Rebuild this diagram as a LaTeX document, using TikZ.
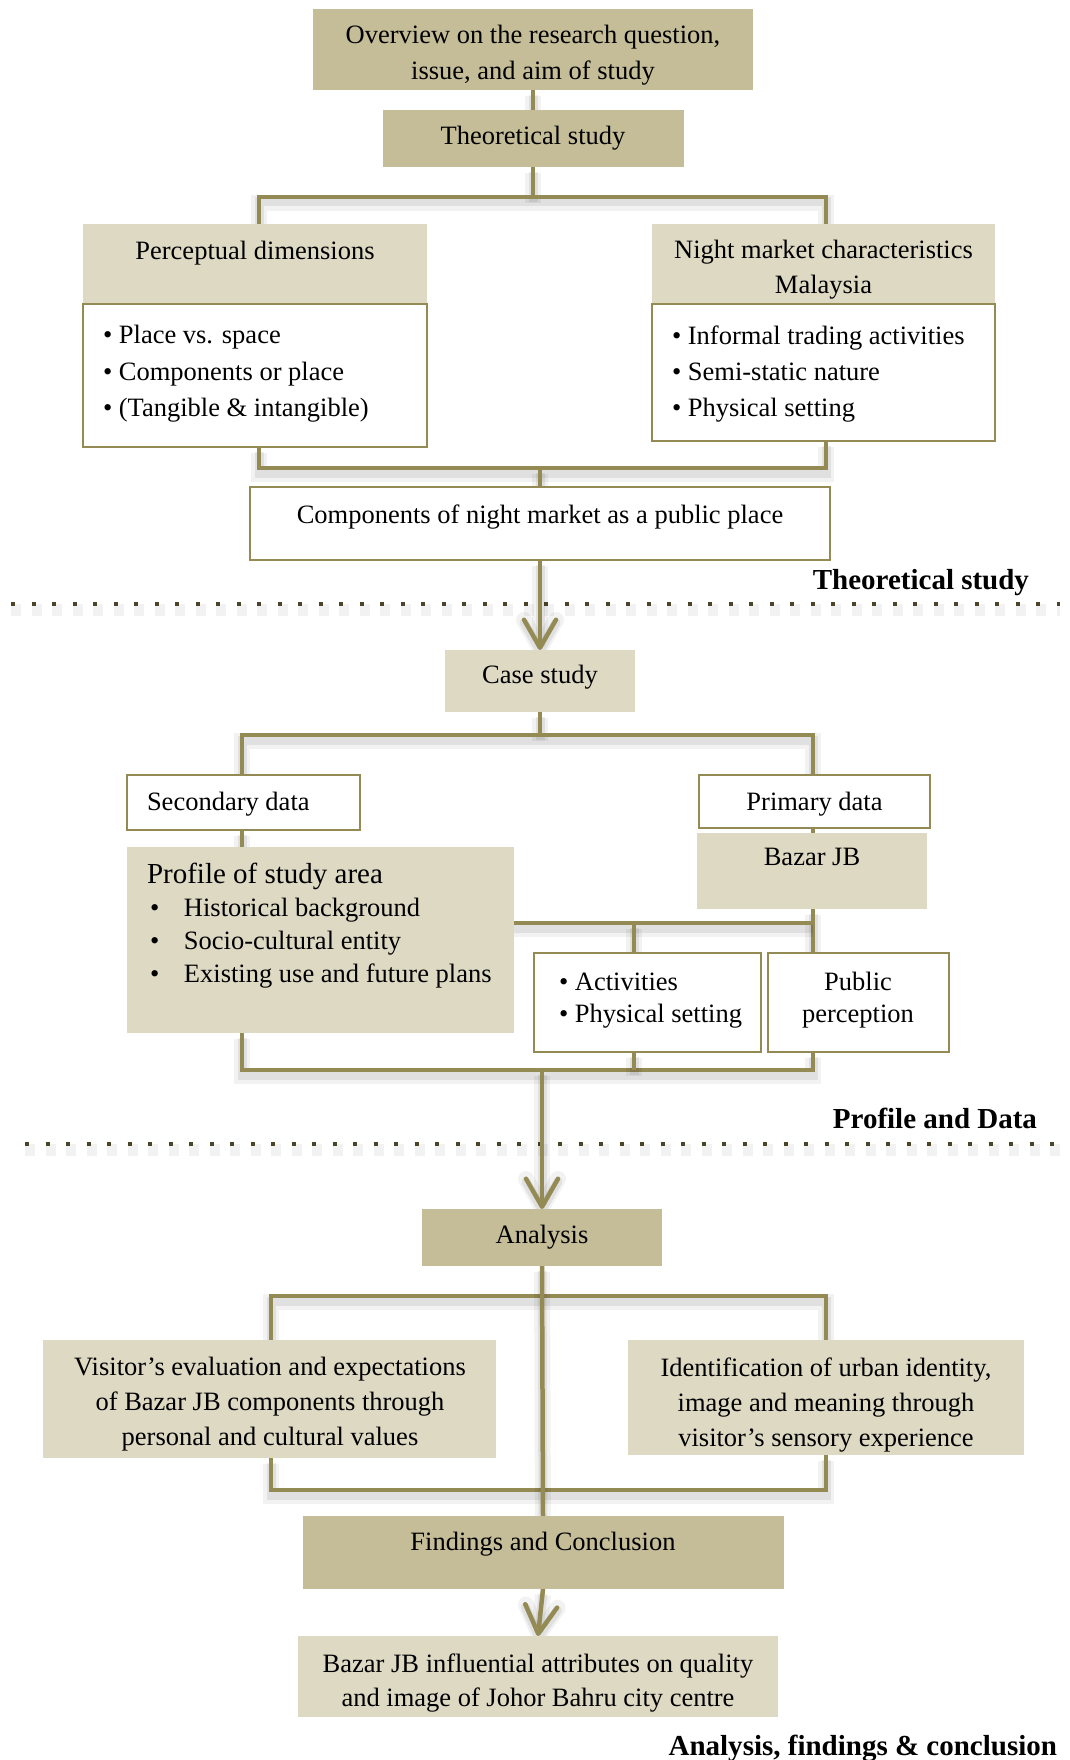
\documentclass[tikz,border=0pt]{standalone}
\usepackage{fontspec}
\setmainfont{Liberation Serif}
\usetikzlibrary{arrows.meta}
\definecolor{darktan}{HTML}{C4BD97}
\definecolor{lighttan}{HTML}{DDD9C3}
\definecolor{olive}{HTML}{948A54}
\definecolor{dotcol}{HTML}{4A452A}
\pgfdeclarelayer{bg}
\pgfsetlayers{bg,main}
\begin{document}
\begin{tikzpicture}[x=1pt,y=-1pt,
  dbox/.style={fill=darktan, draw=none, inner sep=0, outer sep=0},
  lbox/.style={fill=lighttan, draw=none, inner sep=0, outer sep=0},
  wbox/.style={fill=white, draw=olive, line width=1.8pt, inner sep=0, outer sep=0},
  txt/.style={inner sep=0, outer sep=0, anchor=north, align=center, font=\fontsize{26.5}{35.5}\selectfont},
  bl/.style={txt, anchor=north west, align=left},
  lab/.style={inner sep=0, outer sep=0, anchor=north east, font=\bfseries\fontsize{29}{34}\selectfont},
  shade/.style={preaction={draw=black, draw opacity=0.05, line width=16pt, transform canvas={yshift=-6pt}},
                preaction={draw=black, draw opacity=0.07, line width=9pt, transform canvas={yshift=-5pt}}},
  conn/.style={shade, draw=olive, line width=4.5pt, line join=miter},
  arr/.style={conn, line cap=round, -{Straight Barb[length=28pt, width=32pt, round]}},
  dotline/.style={draw=dotcol, line width=4pt, dash pattern=on 4pt off 16.5pt,
                  preaction={draw=black, draw opacity=0.05, line width=12pt, transform canvas={yshift=-6pt}, dash pattern=on 10pt off 10.5pt}}
]
\useasboundingbox (0,0) rectangle (1069,1760);

% ---------- boxes ----------
\node[dbox, minimum width=440, minimum height=81] (ov) at (533,49.5) {};
\node[txt] (ovt) at (533,25.5) {Overview on the research question,\\issue, and aim of study};

\node[dbox, minimum width=301, minimum height=57] (th) at (533,138.5) {};
\node[txt] (tht) at (533,126.5) {Theoretical study};

\node[lbox, minimum width=344, minimum height=80] (pd) at (255,264) {};
\node[txt] (pdt) at (255,241) {Perceptual dimensions};
\node[wbox, minimum width=344, minimum height=143] (pl) at (255,375.5) {};
\node[bl, font=\fontsize{26.5}{36.4}\selectfont] (plt) at (103,325.5) {\textbullet\ Place vs. space\\\textbullet\ Components or place\\\textbullet\ (Tangible \& intangible)};

\node[lbox, minimum width=343, minimum height=80] (nh) at (823.5,264) {};
\node[txt, font=\fontsize{26.5}{35}\selectfont] (nht) at (823.5,240.5) {Night market characteristics\\Malaysia};
\node[wbox, minimum width=343, minimum height=137] (nl) at (823.5,372.5) {};
\node[bl, font=\fontsize{26.5}{36.4}\selectfont] (nlt) at (672,325.5) {\textbullet\ Informal trading activities\\\textbullet\ Semi-static nature\\\textbullet\ Physical setting};

\node[wbox, minimum width=580, minimum height=73] (comp) at (540,523.5) {};
\node[txt] (compt) at (540,504.5) {Components of night market as a public place};

\node[lab] (lab1) at (1029,569.5) {Theoretical study};

\node[lbox, minimum width=190, minimum height=62] (case) at (540,681) {};
\node[txt] (caset) at (540,665.5) {Case study};

\node[wbox, minimum width=233, minimum height=55] (sec) at (243.5,802.5) {};
\node[txt, anchor=north west] (sect) at (147,792) {Secondary data};
\node[wbox, minimum width=231, minimum height=53] (prim) at (814.5,801.5) {};
\node[txt] (primt) at (814.5,792) {Primary data};
\node[lbox, minimum width=230, minimum height=76] (bazar) at (812,871) {};
\node[txt] (bazart) at (812,848.5) {Bazar JB};

\node[lbox, minimum width=387, minimum height=186] (prof) at (320.5,940) {};
\node[txt, anchor=north west, font=\fontsize{29}{33}\selectfont] (proft) at (147,863.5) {Profile of study area};
\node[bl, font=\fontsize{26.5}{33}\selectfont] (profl) at (150,898.5) {\makebox[34pt][l]{\textbullet}Historical background\\\makebox[34pt][l]{\textbullet}Socio-cultural entity\\\makebox[34pt][l]{\textbullet}Existing use and future plans};

\node[wbox, minimum width=227, minimum height=99] (act) at (647.5,1002.5) {};
\node[bl, font=\fontsize{26.5}{32}\selectfont] (actt) at (559,972.5) {\textbullet\ Activities\\\textbullet\ Physical setting};
\node[wbox, minimum width=181, minimum height=99] (pub) at (858.5,1002.5) {};
\node[txt, font=\fontsize{26.5}{32}\selectfont] (pubt) at (858,972.5) {Public\\perception};

\node[lab] (lab2) at (1037,1108.5) {Profile and Data};

\node[dbox, minimum width=240, minimum height=57] (an) at (542,1237.5) {};
\node[txt] (ant) at (542,1225.5) {Analysis};

\node[lbox, minimum width=453, minimum height=118] (vis) at (269.5,1399) {};
\node[txt, font=\fontsize{26.5}{35}\selectfont] (vist) at (270,1357.5) {Visitor’s evaluation and expectations\\of Bazar JB components through\\personal and cultural values};
\node[lbox, minimum width=396, minimum height=115] (idn) at (826,1397.5) {};
\node[txt, font=\fontsize{26.5}{35}\selectfont] (idnt) at (826,1357.5) {Identification of urban identity,\\image and meaning through\\visitor’s sensory experience};

\node[dbox, minimum width=481, minimum height=73] (fi) at (543,1552.5) {};
\node[txt] (fit) at (543,1532.5) {Findings and Conclusion};

\node[lbox, minimum width=480, minimum height=81] (fin) at (538,1676.5) {};
\node[txt, font=\fontsize{26.5}{34}\selectfont] (fint) at (538,1653.5) {Bazar JB influential attributes on quality\\and image of Johor Bahru city centre};

\node[lab] (lab3) at (1057,1735.5) {Analysis, findings \& conclusion};

% ---------- junction coordinates ----------
\coordinate (b1) at (533,197);
\coordinate (b1L) at (259,197);
\coordinate (b1R) at (826,197);
\coordinate (b2L) at (259,468);
\coordinate (b2R) at (826,468);
\coordinate (b2c) at (540,468);
\coordinate (b3) at (540,735);
\coordinate (b3L) at (242,735);
\coordinate (b3R) at (813,735);
\coordinate (b4R) at (813,923);
\coordinate (b4M) at (634,923);
\coordinate (b5L) at (242,1070);
\coordinate (b5R) at (813,1070);
\coordinate (b5M) at (634,1070);
\coordinate (b5c) at (542,1070);
\coordinate (b6L) at (271,1296);
\coordinate (b6R) at (826,1296);
\coordinate (b7L) at (271,1490);
\coordinate (b7R) at (826,1490);
\coordinate (d1L) at (11,604);
\coordinate (d1R) at (1060,604);
\coordinate (d2L) at (25,1144);
\coordinate (d2R) at (1060,1144);

% ---------- connectors (behind boxes) ----------
\begin{pgfonlayer}{bg}
\fill[white] (0,0) rectangle (1069,1760);
\draw[dotline] (d1L) -- (d1R);
\draw[dotline] (d2L) -- (d2R);

\draw[conn] (ov.south) -- (th.north);
\draw[conn] (th.south) -- (b1);
\draw[conn] (pd.north -| b1L) |- (b1R) -- (nh.north -| b1R);
\draw[conn] (pl.south -| b2L) |- (b2R) -- (nl.south -| b2R);
\draw[conn] (b2c) -- (comp.north);
\draw[arr] (comp.south) -- (case.north);

\draw[conn] (case.south) -- (b3);
\draw[conn] (sec.north -| b3L) |- (b3R) -- (prim.north -| b3R);
\draw[conn] (sec.south -| b3L) -- (prof.north -| b3L);
\draw[conn] (prim.south -| b3R) -- (bazar.north -| b3R);
\draw[conn] (bazar.south -| b4R) -- (pub.north -| b4R);
\draw[conn] (prof.east |- b4R) -- (b4R);
\draw[conn] (b4M) -- (act.north -| b4M);
\draw[conn] (prof.south -| b5L) |- (b5R) -- (pub.south -| b5R);
\draw[conn] (act.south -| b5M) -- (b5M);
\draw[arr] (b5c) -- (an.north);

\draw[conn] (vis.north -| b6L) |- (b6R) -- (idn.north -| b6R);
\draw[conn] (vis.south -| b7L) |- (b7R) -- (idn.south -| b7R);
\draw[conn] (an.south) -- (fi.north);
\draw[arr] (fi.south) -- (fin.north);
\end{pgfonlayer}
\end{tikzpicture}
\end{document}
